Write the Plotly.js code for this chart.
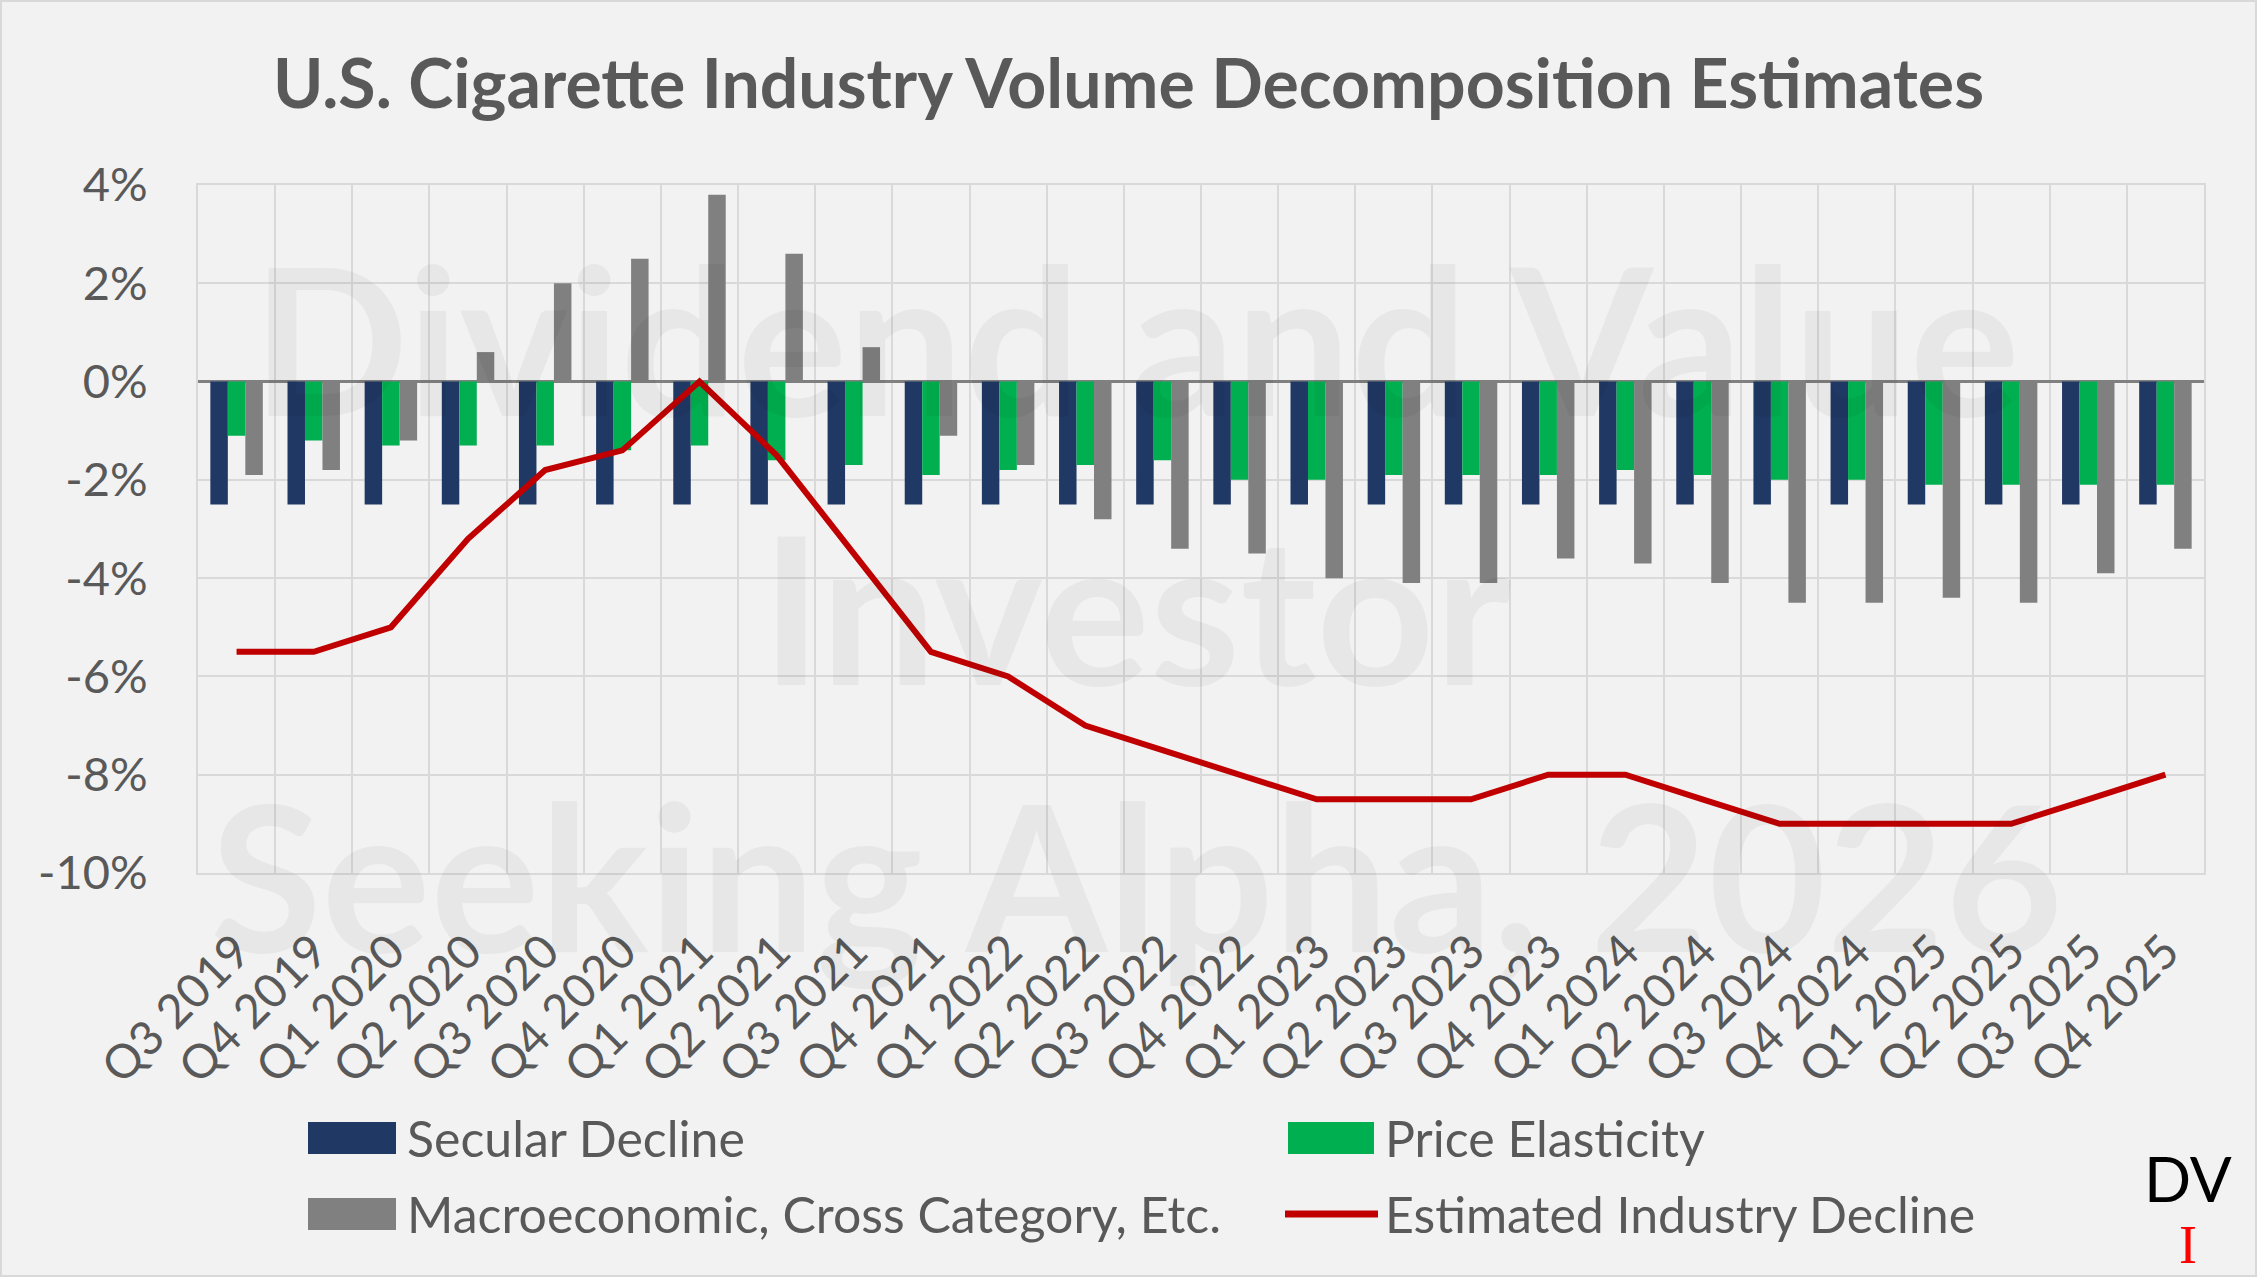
<!DOCTYPE html>
<html><head><meta charset="utf-8">
<script src="https://cdn.plot.ly/plotly-3.0.1.min.js"></script>
<style>
html,body{margin:0;padding:0;background:#f2f2f2;}
#chart{width:2257px;height:1277px;}
#frame{position:absolute;left:0;top:0;width:2257px;height:1277px;box-sizing:border-box;border:2px solid #d9d9d9;pointer-events:none;}
</style>
</head><body><div id="chart"></div><div id="frame"></div>
<script>
// ---------------- DATA ----------------
const categories = ['Q3 2019','Q4 2019','Q1 2020','Q2 2020','Q3 2020','Q4 2020','Q1 2021','Q2 2021','Q3 2021','Q4 2021',
  'Q1 2022','Q2 2022','Q3 2022','Q4 2022','Q1 2023','Q2 2023','Q3 2023','Q4 2023','Q1 2024','Q2 2024',
  'Q3 2024','Q4 2024','Q1 2025','Q2 2025','Q3 2025','Q4 2025'];
const secularDecline = [-2.5,-2.5,-2.5,-2.5,-2.5,-2.5,-2.5,-2.5,-2.5,-2.5,-2.5,-2.5,-2.5,-2.5,-2.5,-2.5,-2.5,-2.5,-2.5,-2.5,-2.5,-2.5,-2.5,-2.5,-2.5,-2.5];
const priceElasticity = [-1.1,-1.2,-1.3,-1.3,-1.3,-1.4,-1.3,-1.6,-1.7,-1.9,-1.8,-1.7,-1.6,-2.0,-2.0,-1.9,-1.9,-1.9,-1.8,-1.9,-2.0,-2.0,-2.1,-2.1,-2.1,-2.1];
const macroEtc = [-1.9,-1.8,-1.2,0.6,2.0,2.5,3.8,2.6,0.7,-1.1,-1.7,-2.8,-3.4,-3.5,-4.0,-4.1,-4.1,-3.6,-3.7,-4.1,-4.5,-4.5,-4.4,-4.5,-3.9,-3.4];
const industryDecline = [-5.5,-5.5,-5.0,-3.2,-1.8,-1.4,0.0,-1.5,-3.5,-5.5,-6.0,-7.0,-7.5,-8.0,-8.5,-8.5,-8.5,-8.0,-8.0,-8.5,-9.0,-9.0,-9.0,-9.0,-8.5,-8.0];
const seriesNames = ['Secular Decline','Price Elasticity','Macroeconomic, Cross Category, Etc.','Estimated Industry Decline'];
const yTickVals = [4,2,0,-2,-4,-6,-8,-10];
const yTickText = ['4%','2%','0%','-2%','-4%','-6%','-8%','-10%'];
const chartTitle = 'U.S. Cigarette Industry Volume Decomposition Estimates';
const watermarkLines = ['Dividend and Value','Investor','Seeking Alpha, 2026'];

// ---------------- STYLE / LAYOUT ----------------
const COLORS = ['#203864','#00b050','#808080','#c00000'];
const W = 2257, H = 1277, L = 198, R = 53, T = 185, B = 404;
const plotW = W - L - R, plotH = H - T - B;
const px = x => (x - L) / plotW;
const py = y => (H - B - y) / plotH;
const FONT = 'Lato, "Open Sans", sans-serif';
const TXT = '#595959';

const traces = [
  {type:'bar', name:seriesNames[0], x:categories, y:secularDecline, marker:{color:COLORS[0]}},
  {type:'bar', name:seriesNames[1], x:categories, y:priceElasticity, marker:{color:COLORS[1]}},
  {type:'bar', name:seriesNames[2], x:categories, y:macroEtc, marker:{color:COLORS[2]}},
  {type:'scatter', mode:'lines', name:seriesNames[3], x:categories, y:industryDecline,
   line:{color:COLORS[3], width:6}}
];

const annotations = [];
const wmY = [336, 605, 873];
const wmSize = [206, 206, 204];
watermarkLines.forEach((t, i) => annotations.push({
  text:t, xref:'paper', yref:'paper', x:px(1136), y:py(wmY[i]), xanchor:'center', yanchor:'middle',
  showarrow:false, font:{family:FONT, size:wmSize[i], weight:700, color:'rgba(0,0,0,0.045)'}
}));

// custom legend (large swatches as in reference)
const legendItems = [
  {sx0:308, sx1:396, cy:1138, tx:405, kind:'rect', c:0, n:0},
  {sx0:1288, sx1:1374, cy:1138, tx:1383, kind:'rect', c:1, n:1},
  {sx0:308, sx1:396, cy:1214, tx:405, kind:'rect', c:2, n:2},
  {sx0:1285, sx1:1378, cy:1214, tx:1383, kind:'line', c:3, n:3}
];
const shapes = [];
legendItems.forEach(it => {
  if (it.kind === 'rect') {
    shapes.push({type:'rect', xref:'paper', yref:'paper', x0:px(it.sx0), x1:px(it.sx1),
      y0:py(it.cy + 16), y1:py(it.cy - 16), fillcolor:COLORS[it.c], line:{width:0}});
  } else {
    shapes.push({type:'line', xref:'paper', yref:'paper', x0:px(it.sx0), x1:px(it.sx1),
      y0:py(it.cy), y1:py(it.cy), line:{color:COLORS[it.c], width:7}});
  }
  annotations.push({text:seriesNames[it.n], xref:'paper', yref:'paper', x:px(it.tx), y:py(it.cy),
    xanchor:'left', yanchor:'middle', showarrow:false, font:{family:FONT, size:50, color:TXT}});
});

// DV logo
annotations.push({text:'DV', xref:'paper', yref:'paper', x:px(2188), y:py(1178), xanchor:'center', yanchor:'middle',
  showarrow:false, font:{family:FONT, size:62, color:'#000000'}});
annotations.push({text:'I', xref:'paper', yref:'paper', x:px(2188), y:py(1245), xanchor:'center', yanchor:'middle',
  showarrow:false, font:{family:'"Liberation Serif", serif', size:54, color:'#ff0000'}});

const layout = {
  width:W, height:H,
  margin:{l:L, r:R, t:T, b:B, pad:0},
  paper_bgcolor:'#f2f2f2', plot_bgcolor:'#f2f2f2',
  showlegend:false,
  barmode:'group', bargap:0.32, bargroupgap:0,
  title:{text:chartTitle, xref:'container', yref:'container', x:0.5, xanchor:'center',
    y:1 - 84/H, yanchor:'middle', font:{family:FONT, size:68, weight:700, color:TXT}},
  xaxis:{type:'category', range:[-0.5, categories.length - 0.5], tickson:'boundaries',
    showgrid:true, gridcolor:'#d9d9d9', gridwidth:2, ticks:'', tickangle:-45,
    tickfont:{family:FONT, size:47, color:TXT}, ticklabelstandoff:30,
    showline:true, mirror:true, linecolor:'#d9d9d9', linewidth:2, zeroline:false, automargin:false, fixedrange:true},
  yaxis:{range:[-10, 4], tickvals:yTickVals, ticktext:yTickText, showgrid:true, gridcolor:'#d9d9d9', gridwidth:2,
    zeroline:true, zerolinecolor:'#808080', zerolinewidth:3, ticks:'',
    tickfont:{family:FONT, size:47, color:TXT}, ticklabelstandoff:39,
    showline:true, mirror:true, linecolor:'#d9d9d9', linewidth:2, automargin:false, fixedrange:true},
  annotations:annotations,
  shapes:shapes
};

Plotly.newPlot('chart', traces, layout, {displayModeBar:false, staticPlot:true});
</script></body></html>
